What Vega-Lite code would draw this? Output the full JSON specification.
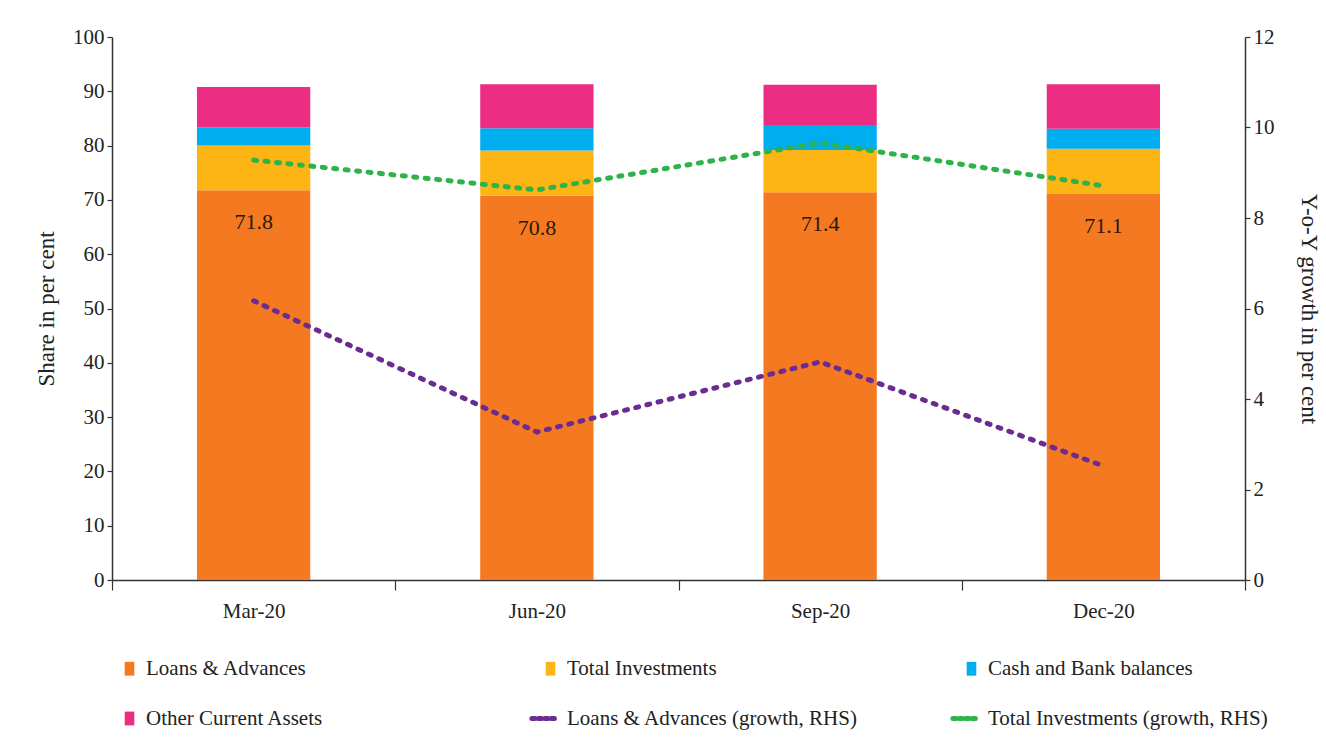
{
  "$schema": "https://vega.github.io/schema/vega-lite/v6.json",
  "width": 1133,
  "height": 543,
  "autosize": {"type": "none"},
  "padding": {"left": 112, "top": 37, "right": 81, "bottom": 171},
  "background": "white",
  "config": {
    "view": {"stroke": null},
    "font": "Liberation Serif",
    "axis": {
      "labelFont": "Liberation Serif",
      "titleFont": "Liberation Serif",
      "labelColor": "#222",
      "titleColor": "#222",
      "domainColor": "#333",
      "tickColor": "#333",
      "domainWidth": 1.5,
      "tickWidth": 1.2,
      "grid": false,
      "labelFontSize": 21,
      "titleFontSize": 23,
      "titleFontWeight": "normal"
    },
    "legend": {
      "labelFont": "Liberation Serif",
      "labelFontSize": 21,
      "labelColor": "#222",
      "labelLimit": 500
    }
  },
  "datasets": {
    "bars": [
      {"date": "Mar-20", "series": "Loans & Advances", "ord": 1, "share": 71.8},
      {"date": "Mar-20", "series": "Total Investments", "ord": 2, "share": 8.2},
      {"date": "Mar-20", "series": "Cash and Bank balances", "ord": 3, "share": 3.4},
      {"date": "Mar-20", "series": "Other Current Assets", "ord": 4, "share": 7.4},
      {"date": "Jun-20", "series": "Loans & Advances", "ord": 1, "share": 70.8},
      {"date": "Jun-20", "series": "Total Investments", "ord": 2, "share": 8.3},
      {"date": "Jun-20", "series": "Cash and Bank balances", "ord": 3, "share": 4.1},
      {"date": "Jun-20", "series": "Other Current Assets", "ord": 4, "share": 8.1},
      {"date": "Sep-20", "series": "Loans & Advances", "ord": 1, "share": 71.4},
      {"date": "Sep-20", "series": "Total Investments", "ord": 2, "share": 7.8},
      {"date": "Sep-20", "series": "Cash and Bank balances", "ord": 3, "share": 4.6},
      {"date": "Sep-20", "series": "Other Current Assets", "ord": 4, "share": 7.4},
      {"date": "Dec-20", "series": "Loans & Advances", "ord": 1, "share": 71.1},
      {"date": "Dec-20", "series": "Total Investments", "ord": 2, "share": 8.3},
      {"date": "Dec-20", "series": "Cash and Bank balances", "ord": 3, "share": 3.7},
      {"date": "Dec-20", "series": "Other Current Assets", "ord": 4, "share": 8.2}
    ],
    "lines": [
      {"date": "Mar-20", "series": "Loans & Advances (growth, RHS)", "growth": 6.17},
      {"date": "Jun-20", "series": "Loans & Advances (growth, RHS)", "growth": 3.27},
      {"date": "Sep-20", "series": "Loans & Advances (growth, RHS)", "growth": 4.82},
      {"date": "Dec-20", "series": "Loans & Advances (growth, RHS)", "growth": 2.52},
      {"date": "Mar-20", "series": "Total Investments (growth, RHS)", "growth": 9.28},
      {"date": "Jun-20", "series": "Total Investments (growth, RHS)", "growth": 8.62},
      {"date": "Sep-20", "series": "Total Investments (growth, RHS)", "growth": 9.66},
      {"date": "Dec-20", "series": "Total Investments (growth, RHS)", "growth": 8.71}
    ],
    "labels": [
      {"date": "Mar-20", "share": 71.8, "label": "71.8"},
      {"date": "Jun-20", "share": 70.8, "label": "70.8"},
      {"date": "Sep-20", "share": 71.4, "label": "71.4"},
      {"date": "Dec-20", "share": 71.1, "label": "71.1"}
    ]
  },
  "encoding": {
    "x": {
      "field": "date",
      "type": "nominal",
      "sort": ["Mar-20", "Jun-20", "Sep-20", "Dec-20"],
      "scale": {"paddingInner": 0, "paddingOuter": 0},
      "axis": {
        "title": null,
        "labelAngle": 0,
        "tickBand": "extent",
        "tickSize": 10,
        "labelPadding": 10,
        "domainColor": "#333"
      }
    }
  },
  "layer": [
    {
      "encoding": {
        "y": {
          "field": "share",
          "type": "quantitative",
          "scale": {"domain": [0, 100], "nice": false},
          "axis": {
            "title": "Share in per cent",
            "values": [0, 10, 20, 30, 40, 50, 60, 70, 80, 90, 100],
            "tickSize": 5,
            "labelPadding": 3,
            "titlePadding": 14
          }
        }
      },
      "layer": [
        {
          "data": {"name": "bars"},
          "mark": {"type": "bar", "width": {"band": 0.4}},
          "encoding": {
            "y": {"field": "share", "type": "quantitative", "stack": "zero"},
            "order": {"field": "ord", "type": "quantitative"},
            "color": {
              "field": "series",
              "type": "nominal",
              "scale": {
                "domain": ["Loans & Advances", "Total Investments", "Cash and Bank balances", "Other Current Assets", "Loans & Advances (growth, RHS)", "Total Investments (growth, RHS)"],
                "range": ["#F47920", "#FDB415", "#00AEEF", "#EC2D84", "#6A2C91", "#2EB34B"]
              },
              "legend": {
                "title": null,
                "orient": "bottom",
                "direction": "horizontal",
                "columns": 3,
                "gridAlign": "all",
                "columnPadding": 83,
                "rowPadding": 28,
                "offset": 30,
                "padding": 7,
                "symbolSize": 144,
                "labelOffset": 6,
                "encode": {
                  "symbols": {
                    "update": {
                      "shape": {"signal": "test(/growth/, datum.value) ? 'M-3.1,0H0.8' : 'M-0.8,-1.15H0.8V1.15H-0.8Z'"},
                      "fill": {"signal": "test(/growth/, datum.value) ? 'transparent' : scale('color', datum.value)"},
                      "stroke": {"signal": "scale('color', datum.value)"},
                      "strokeWidth": {"signal": "test(/growth/, datum.value) ? 5 : 0"},
                      "strokeDash": {"signal": "test(/growth/, datum.value) ? [3, 3.5] : [1, 0]"},
                      "strokeCap": {"value": "round"},
                      "opacity": {"value": 1}
                    }
                  }
                }
              }
            }
          }
        },
        {
          "data": {"name": "labels"},
          "mark": {"type": "text", "dy": 32, "fontSize": 22, "color": "#2a1a0e", "font": "Liberation Serif"},
          "encoding": {
            "text": {"field": "label"}
          }
        }
      ]
    },
    {
      "data": {"name": "lines"},
      "mark": {"type": "line", "strokeWidth": 5, "strokeDash": [3, 8.5], "strokeCap": "round"},
      "encoding": {
        "y": {
          "field": "growth",
          "type": "quantitative",
          "scale": {"domain": [0, 12], "nice": false},
          "axis": {
            "orient": "right",
            "title": "Y-o-Y growth in per cent",
            "values": [0, 2, 4, 6, 8, 10, 12],
            "tickSize": 5,
            "labelPadding": 3,
            "titlePadding": 22
          }
        },
        "color": {"field": "series", "type": "nominal"}
      }
    }
  ],
  "resolve": {"scale": {"y": "independent"}}
}
